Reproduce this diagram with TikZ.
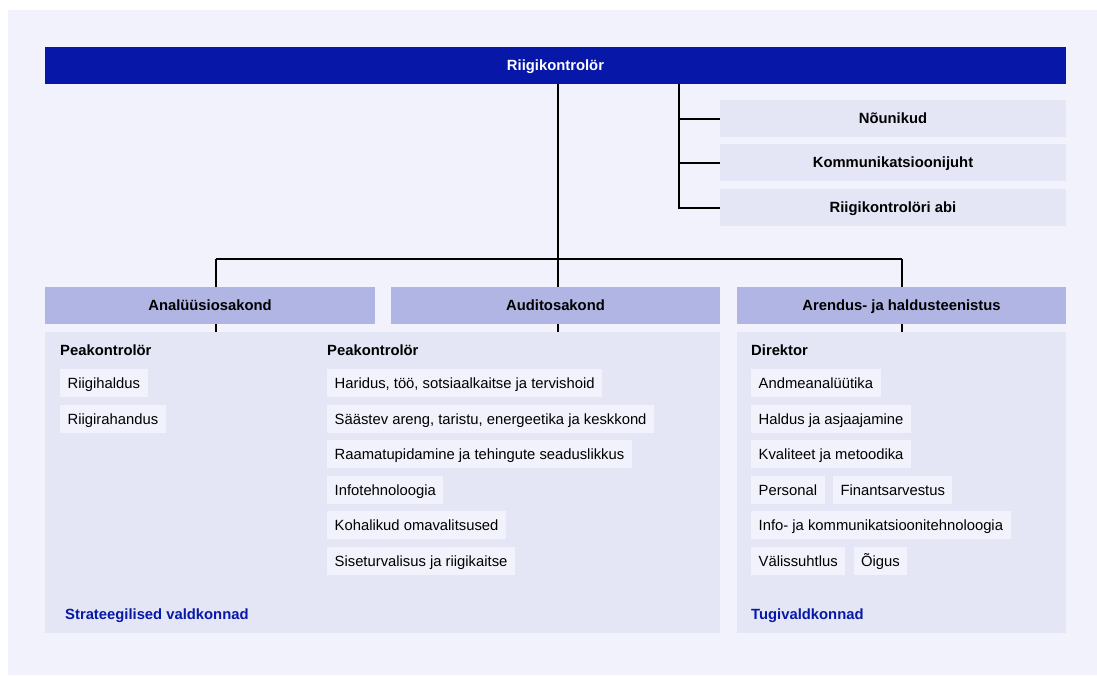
\documentclass[tikz,border=0pt]{standalone}
\usepackage{fontspec}
\setmainfont{Liberation Sans}
\usetikzlibrary{positioning}
\definecolor{rkblue}{HTML}{0718A8}
\definecolor{rkpanel}{HTML}{F1F2FB}
\definecolor{rklight}{HTML}{E5E6F5}
\definecolor{rkhead}{HTML}{B1B5E3}
\begin{document}
\begin{tikzpicture}[x=1pt,y=-1pt,
    every node/.style={font=\fontsize{14.8}{17}\selectfont, inner sep=0pt,
      text height=12.5pt, text depth=2pt},
    box/.style={minimum height=37pt, font=\fontsize{14.8}{17}\selectfont\bfseries},
    side/.style={box, fill=rklight, minimum width=346pt},
    dept/.style={box, fill=rkhead, minimum width=330pt},
    area/.style={fill=rklight, minimum height=301pt},
    item/.style={fill=rkpanel, anchor=west, minimum height=28pt, inner xsep=7.5pt},
    lead/.style={anchor=base west, font=\fontsize{14.8}{17}\selectfont\bfseries},
    foot/.style={lead, text=rkblue}]
  \fill[white] (0,0) rectangle (1097,675);
  \useasboundingbox (0,0) rectangle (1097,675);
  \fill[rkpanel] (8,10) rectangle (1097,675);

  \node[box, fill=rkblue, text=white, minimum width=1021pt] (top) at (555.5,65.5) {Riigikontrolör};
  \node[side] (nou) at (893,118.5) {Nõunikud};
  \node[side] (kom) at (893,162.5) {Kommunikatsioonijuht};
  \node[side] (abi) at (893,207.5) {Riigikontrolöri abi};

  \node[dept] (ana) at (210,305.5) {Analüüsiosakond};
  \node[dept, minimum width=329pt] (aud) at (555.5,305.5) {Auditosakond};
  \node[dept, minimum width=329pt] (are) at (901.5,305.5) {Arendus- ja haldusteenistus};

  \node[area, minimum width=675pt] (lowl) at (382.5,482.5) {};
  \node[area, minimum width=329pt] (lowr) at (901.5,482.5) {};

  \node[lead] (pk1) at (60,355.5) {Peakontrolör};
  \node[item] (r1) at (60,383) {Riigihaldus};
  \node[item] (r2) at (60,419) {Riigirahandus};

  \node[lead] (pk2) at (327,355.5) {Peakontrolör};
  \node[item] (a1) at (327,383) {Haridus, töö, sotsiaalkaitse ja tervishoid};
  \node[item] (a2) at (327,419) {Säästev areng, taristu, energeetika ja keskkond};
  \node[item] (a3) at (327,454) {Raamatupidamine ja tehingute seaduslikkus};
  \node[item] (a4) at (327,490) {Infotehnoloogia};
  \node[item] (a5) at (327,525) {Kohalikud omavalitsused};
  \node[item] (a6) at (327,561) {Siseturvalisus ja riigikaitse};

  \node[lead] (dir) at (751,355.5) {Direktor};
  \node[item] (t1) at (751,383) {Andmeanalüütika};
  \node[item] (t2) at (751,419) {Haldus ja asjaajamine};
  \node[item] (t3) at (751,454) {Kvaliteet ja metoodika};
  \node[item] (t4) at (751,490) {Personal};
  \node[item, right=8pt of t4] (t5) {Finantsarvestus};
  \node[item] (t6) at (751,525) {Info- ja kommunikatsioonitehnoloogia};
  \node[item] (t7) at (751,561) {Välissuhtlus};
  \node[item, right=8pt of t7] (t8) {Õigus};

  \node[foot] (sv) at (65,619) {Strateegilised valdkonnad};
  \node[foot] (tv) at (751,619) {Tugivaldkonnad};

  \coordinate (sb) at (679,0);
  \coordinate (hl) at (216,259);
  \coordinate (hm) at (558,259);
  \coordinate (hr) at (902,259);
  \begin{scope}[line width=2pt]
    \draw (top.south -| sb) |- (abi.west);
    \draw (sb |- nou.west) -- (nou.west);
    \draw (sb |- kom.west) -- (kom.west);
    \draw (top.south -| hm) -- (hm);
    \draw (hl) -- (hr);
    \draw (hl) -- (hl |- ana.north);
    \draw (hm) -- (hm |- aud.north);
    \draw (hr) -- (hr |- are.north);
    \draw (hl |- ana.south) -- (hl |- lowl.north);
    \draw (hm |- aud.south) -- (hm |- lowl.north);
    \draw (hr |- are.south) -- (hr |- lowr.north);
  \end{scope}
\end{tikzpicture}
\end{document}
